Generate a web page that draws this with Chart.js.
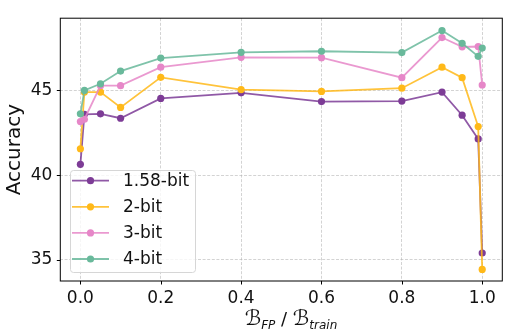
<!DOCTYPE html>
<html>
<head>
<meta charset="utf-8">
<script src="https://cdn.jsdelivr.net/npm/chart.js@4.4.0/dist/chart.umd.min.js"></script>
<style>
  html, body { margin: 0; padding: 0; background: #fff; }
  #wrap { width: 509px; height: 334px; position: relative; }
</style>
</head>
<body>
<div id="wrap"><canvas id="chart"></canvas></div>
<script>
// fraction of FP budget
const fractions = [0, 0.01, 0.05, 0.1, 0.2, 0.4, 0.6, 0.8, 0.9, 0.95, 0.99, 1.0];

const acc158 = [40.64, 43.59, 43.62, 43.36, 44.53, 44.86, 44.34, 44.37, 44.9, 43.54, 42.14, 35.41];
const acc2 = [41.56, 44.9, 44.9, 44.0, 45.77, 45.05, 44.94, 45.13, 46.37, 45.75, 42.87, 34.44];
const acc3 = [43.16, 43.3, 45.28, 45.28, 46.37, 46.95, 46.93, 45.75, 48.12, 47.57, 47.59, 45.32];
const acc4 = [43.62, 45.0, 45.39, 46.14, 46.91, 47.25, 47.31, 47.23, 48.53, 47.78, 47.01, 47.5];

const seriesLabels = ["1.58-bit", "2-bit", "3-bit", "4-bit"];
const xTicks = [0, 0.2, 0.4, 0.6, 0.8, 1.0];
const yTicks = [35, 40, 45];

const colors = ["rgb(125,60,150)", "rgb(255,185,25)", "rgb(230,135,200)", "rgb(105,185,155)"];
const lineColors = ["rgba(125,60,150,0.85)", "rgba(255,185,25,0.85)", "rgba(230,135,200,0.85)", "rgba(105,185,155,0.85)"];

const FONT = "'DejaVu Sans', sans-serif";

const toPoints = (vals) => vals.map((v, i) => ({ x: fractions[i], y: v }));

const datasets = [acc158, acc2, acc3, acc4].map((vals, i) => ({
  label: seriesLabels[i],
  data: toPoints(vals),
  borderColor: lineColors[i],
  backgroundColor: colors[i],
  borderWidth: 1.8,
  pointRadius: 3.6,
  pointBorderWidth: 0,
  pointHoverRadius: 3.6,
  tension: 0,
  order: 4 - i,
}));

// frame, tick marks, legend and x label
const decor = {
  id: "decor",
  afterDraw(chart) {
    const { ctx, chartArea: a, scales } = chart;
    ctx.save();
    ctx.strokeStyle = "#000";
    ctx.lineWidth = 1;
    ctx.setLineDash([]);
    ctx.strokeRect(a.left, a.top, a.right - a.left, a.bottom - a.top);

    ctx.beginPath();
    xTicks.forEach((t) => {
      const px = Math.round(scales.x.getPixelForValue(t)) + 0.5;
      ctx.moveTo(px, a.bottom);
      ctx.lineTo(px, a.bottom + 3.5);
    });
    yTicks.forEach((t) => {
      const py = Math.round(scales.y.getPixelForValue(t)) + 0.5;
      ctx.moveTo(a.left, py);
      ctx.lineTo(a.left - 3.5, py);
    });
    ctx.stroke();

    // legend
    const lx = 70, ly = 170, lw = 125, lh = 102;
    ctx.beginPath();
    ctx.roundRect(lx + 0.5, ly + 0.5, lw, lh, 3);
    ctx.fillStyle = "rgba(255,255,255,0.8)";
    ctx.fill();
    ctx.strokeStyle = "#d6d6d6";
    ctx.stroke();
    seriesLabels.forEach((lab, i) => {
      const y = 180.7 + i * 26.1;
      ctx.strokeStyle = lineColors[i];
      ctx.lineWidth = 1.8;
      ctx.beginPath();
      ctx.moveTo(72, y);
      ctx.lineTo(109, y);
      ctx.stroke();
      ctx.fillStyle = colors[i];
      ctx.beginPath();
      ctx.arc(90.5, y, 3.6, 0, Math.PI * 2);
      ctx.fill();
      ctx.fillStyle = "#111";
      ctx.font = "17px " + FONT;
      ctx.textBaseline = "middle";
      ctx.textAlign = "left";
      ctx.fillText(lab, 123, y + 1);
    });

    // x axis label: B_FP / B_train
    const parts = [
      { t: "\u212C", f: "21px " + FONT, dy: 0 },
      { t: "FP", f: "italic 12px " + FONT, dy: 3.5 },
      { t: " / ", f: "18px " + FONT, dy: 0 },
      { t: "\u212C", f: "21px " + FONT, dy: 0 },
      { t: "train", f: "italic 12px " + FONT, dy: 3.5 },
    ];
    let total = 0;
    parts.forEach((p) => { ctx.font = p.f; p.w = ctx.measureText(p.t).width; total += p.w; });
    let x = 291 - total / 2;
    const base = 325;
    ctx.fillStyle = "#111";
    ctx.textBaseline = "alphabetic";
    parts.forEach((p) => {
      ctx.font = p.f;
      ctx.fillText(p.t, x, base + p.dy);
      x += p.w;
    });
    ctx.restore();
  },
};

new Chart(document.getElementById("chart"), {
  type: "line",
  data: { datasets },
  options: {
    responsive: true,
    maintainAspectRatio: false,
    animation: false,
    events: [],
    layout: { padding: { top: 6.5, right: 6.7, left: 0, bottom: 0 } },
    plugins: {
      legend: { display: false },
      tooltip: { enabled: false },
    },
    scales: {
      x: {
        type: "linear",
        min: -0.05,
        max: 1.05,
        afterBuildTicks: (scale) => { scale.ticks = xTicks.map((v) => ({ value: v })); },
        afterFit: (scale) => { scale.height = 53; },
        ticks: {
          padding: 7,
          color: "#111",
          font: { family: FONT, size: 17 },
          maxRotation: 0,
          callback: (v) => Number(v).toFixed(1),
        },
        grid: { color: "rgba(176,176,176,0.7)", lineWidth: 0.8, drawTicks: false },
        border: { display: false, dash: [3, 1.6] },
      },
      y: {
        min: 33.76,
        max: 49.26,
        afterBuildTicks: (scale) => { scale.ticks = yTicks.map((v) => ({ value: v })); },
        afterFit: (scale) => { scale.width = 60.3; },
        ticks: {
          padding: 8,
          color: "#111",
          font: { family: FONT, size: 17 },
          callback: (v) => String(v),
        },
        grid: { color: "rgba(176,176,176,0.7)", lineWidth: 0.8, drawTicks: false },
        border: { display: false, dash: [3, 1.6] },
        title: {
          display: true,
          text: "Accuracy",
          color: "#111",
          font: { family: FONT, size: 20 },
          padding: { top: 3, bottom: 0 },
        },
      },
    },
  },
  plugins: [decor],
});
</script>
</body>
</html>
